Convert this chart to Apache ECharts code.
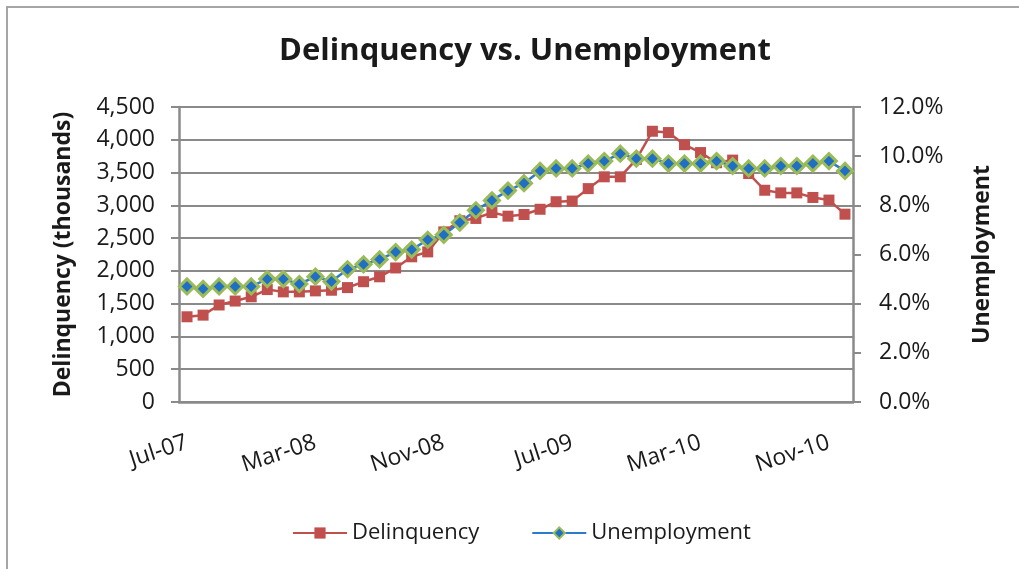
<!DOCTYPE html>
<html>
<head>
<meta charset="utf-8">
<script src="https://cdn.jsdelivr.net/npm/echarts@6/dist/echarts.min.js"></script>
<style>
  html, body { margin: 0; padding: 0; background: #fff; }
  #chart { width: 1019px; height: 569px; }
</style>
</head>
<body>
<div id="chart"></div>
<script>
const months = [
  "Jul-07", "Aug-07", "Sep-07", "Oct-07", "Nov-07", "Dec-07",
  "Jan-08", "Feb-08", "Mar-08", "Apr-08", "May-08", "Jun-08",
  "Jul-08", "Aug-08", "Sep-08", "Oct-08", "Nov-08", "Dec-08",
  "Jan-09", "Feb-09", "Mar-09", "Apr-09", "May-09", "Jun-09",
  "Jul-09", "Aug-09", "Sep-09", "Oct-09", "Nov-09", "Dec-09",
  "Jan-10", "Feb-10", "Mar-10", "Apr-10", "May-10", "Jun-10",
  "Jul-10", "Aug-10", "Sep-10", "Oct-10", "Nov-10", "Dec-10",
];
// thousands
const delinquency = [
  1300, 1325, 1480, 1540, 1605, 1715, 1680, 1680, 1695, 1705, 1745, 1835,
  1910, 2045, 2215, 2290, 2595, 2765, 2800, 2890, 2835, 2860, 2940, 3055,
  3065, 3255, 3435, 3435, 3700, 4130, 4110, 3925, 3805, 3650, 3690, 3485,
  3230, 3190, 3190, 3120, 3080, 2865,
];
// percent
const unemployment = [
  4.7, 4.6, 4.7, 4.7, 4.7, 5.0, 5.0, 4.8, 5.1, 4.9, 5.4, 5.6,
  5.8, 6.1, 6.2, 6.6, 6.8, 7.3, 7.8, 8.2, 8.6, 8.9, 9.4, 9.5,
  9.5, 9.7, 9.8, 10.1, 9.9, 9.9, 9.7, 9.7, 9.7, 9.8, 9.6, 9.5,
  9.5, 9.6, 9.6, 9.7, 9.8, 9.4,
];

const FONT = "Open Sans";
const TXT = "#1a1a1a";
const AXIS = "#8a8a8a";

const myChart = echarts.init(document.getElementById("chart"));

const option = {
  animation: false,
  textStyle: { fontFamily: FONT, color: TXT },
  graphic: [
    {
      type: "rect",
      shape: { x: 7, y: 7, width: 1040, height: 600 },
      style: { fill: "none", stroke: "#a6a6a6", lineWidth: 2 },
    },
  ],
  title: {
    text: "Delinquency vs. Unemployment",
    left: 520,
    textAlign: "center",
    top: 31,
    textStyle: { fontFamily: FONT, fontSize: 31, fontWeight: "bold", color: TXT },
  },
  legend: {
    left: 287,
    top: 517,
    itemWidth: 54,
    itemHeight: 14,
    itemGap: 52,
    textStyle: { fontFamily: FONT, fontSize: 22, color: TXT },
    data: ["Delinquency", "Unemployment"],
  },
  grid: { left: 179, right: 166, top: 107, bottom: 167 },
  xAxis: {
    type: "category",
    boundaryGap: true,
    data: months,
    axisLine: { lineStyle: { color: AXIS, width: 2.5 } },
    axisTick: { interval: 7, length: 8, lineStyle: { color: AXIS, width: 2 } },
    axisLabel: {
      interval: 7,
      rotate: 18,
      margin: 40,
      fontFamily: FONT,
      fontSize: 23,
      color: TXT,
    },
  },
  yAxis: [
    {
      type: "value",
      min: 0,
      max: 4500,
      interval: 500,
      name: "Delinquency (thousands)",
      nameLocation: "middle",
      nameGap: 104,
      nameTextStyle: { fontFamily: FONT, fontSize: 23, fontWeight: "bold", color: TXT },
      axisLine: { show: true, lineStyle: { color: AXIS, width: 2.5 } },
      axisTick: { show: true, length: 8, lineStyle: { color: AXIS, width: 2 } },
      axisLabel: {
        margin: 24,
        fontFamily: FONT,
        fontSize: 23,
        color: TXT,
        formatter: (v) => v.toLocaleString("en-US"),
      },
      splitLine: { lineStyle: { color: AXIS, width: 2 } },
    },
    {
      type: "value",
      min: 0,
      max: 12,
      interval: 2,
      name: "Unemployment",
      nameLocation: "middle",
      nameGap: 118,
      nameTextStyle: { fontFamily: FONT, fontSize: 23, fontWeight: "bold", color: TXT },
      axisLine: { show: true, lineStyle: { color: AXIS, width: 2.5 } },
      axisTick: { show: true, length: 8, lineStyle: { color: AXIS, width: 2 } },
      axisLabel: {
        margin: 26,
        fontFamily: FONT,
        fontSize: 23,
        color: TXT,
        formatter: (v) => v.toFixed(1) + "%",
      },
      splitLine: { show: false },
    },
  ],
  series: [
    {
      name: "Delinquency",
      type: "line",
      yAxisIndex: 0,
      data: delinquency,
      symbol: "rect",
      symbolSize: 11,
      showAllSymbol: true,
      color: "#c0504d",
      lineStyle: { width: 2.5, color: "#c0504d" },
      itemStyle: { color: "#c0504d" },
    },
    {
      name: "Unemployment",
      type: "line",
      yAxisIndex: 1,
      data: unemployment,
      symbol: "diamond",
      symbolSize: 15,
      showAllSymbol: true,
      color: "#1f6fc5",
      lineStyle: { width: 2.5, color: "#2a7ad0" },
      itemStyle: { color: "#1f6fc5", borderColor: "#9bbb59", borderWidth: 3 },
    },
  ],
};

myChart.setOption(option);
</script>
</body>
</html>
